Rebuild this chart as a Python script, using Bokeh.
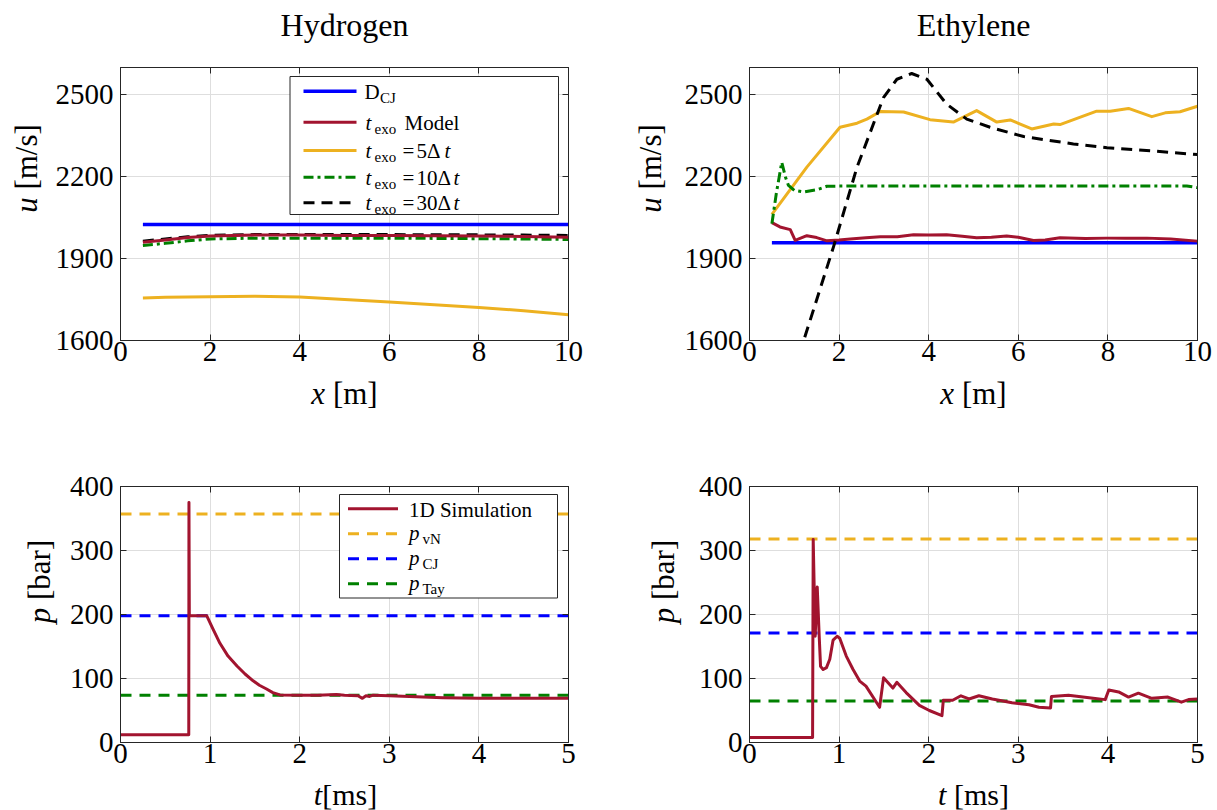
import math
from bokeh.plotting import figure
from bokeh.models import Label, BoxAnnotation, Arrow, LinearAxis, FixedTicker, Range1d
from bokeh.layouts import column, row
from bokeh.embed import file_html
from bokeh.resources import INLINE

FONT = "Liberation Serif"

# ---------------- data ----------------
# Hydrogen, velocity vs distance
h2_x_dcj = [0.5, 10.0]
h2_u_dcj = [2025, 2025]
h2_x_model = [0.5, 1.0, 1.5, 2.0, 3.0, 4.0, 5.0, 6.0, 7.0, 8.0, 9.0, 10.0]
h2_u_model = [1960, 1968, 1977, 1983, 1986, 1986, 1985, 1985, 1984, 1983, 1981, 1978]
h2_x_t5 = [0.5, 1.0, 2.0, 3.0, 4.0, 5.0, 6.0, 7.0, 8.0, 9.0, 10.0]
h2_u_t5 = [1756, 1758, 1760, 1762, 1759, 1750, 1741, 1731, 1721, 1709, 1694]
h2_x_t10 = [0.5, 1.0, 1.5, 2.0, 3.0, 4.0, 5.0, 6.0, 7.0, 8.0, 9.0, 10.0]
h2_u_t10 = [1948, 1956, 1965, 1972, 1975, 1975, 1975, 1975, 1974, 1973, 1972, 1970]
h2_x_t30 = [0.5, 1.0, 1.5, 2.0, 3.0, 4.0, 5.0, 6.0, 7.0, 8.0, 9.0, 10.0]
h2_u_t30 = [1964, 1972, 1980, 1985, 1988, 1988, 1988, 1988, 1987, 1987, 1986, 1985]

# Ethylene, velocity vs distance
c2_x_dcj = [0.5, 10.0]
c2_u_dcj = [1958, 1958]
c2_x_model = [0.5, 0.68, 0.91, 1.02, 1.1, 1.28, 1.5, 1.73, 2.0, 2.25, 2.6, 2.92, 3.3, 3.66,
              4.0, 4.4, 4.75, 5.07, 5.4, 5.74, 6.0, 6.34, 6.6, 6.93, 7.5, 7.98, 8.4, 8.87, 9.4, 10.0]
c2_u_model = [2032, 2016, 2006, 1967, 1972, 1984, 1977, 1965, 1968, 1972, 1976, 1980, 1980, 1987,
              1986, 1987, 1982, 1976, 1978, 1983, 1978, 1966, 1968, 1976, 1974, 1975, 1975, 1975, 1972, 1964]
c2_x_t5 = [0.5, 1.28, 2.02, 2.40, 2.62, 2.92, 3.44, 4.03, 4.55, 5.07, 5.52, 5.82, 6.30, 6.79,
           6.93, 7.75, 8.05, 8.46, 8.98, 9.28, 9.61, 10.0]
c2_u_t5 = [2062, 2235, 2381, 2396, 2411, 2439, 2437, 2409, 2400, 2442, 2400, 2408, 2375, 2393,
           2391, 2440, 2440, 2450, 2420, 2434, 2438, 2458]
c2_x_t10 = [0.5, 0.6, 0.72, 0.8, 0.87, 1.0, 1.21, 1.5, 1.73, 2.2, 3.0, 4.0, 5.0, 6.0, 7.0, 8.0, 9.0, 9.76, 10.0]
c2_u_t10 = [2028, 2140, 2253, 2200, 2168, 2150, 2144, 2152, 2165, 2166, 2166, 2166, 2166, 2166, 2166, 2166, 2166, 2166, 2160]
c2_x_t30 = [0.5, 1.21, 1.875, 2.4, 2.99, 3.29, 3.62, 3.96, 4.40, 4.85, 5.37, 6.12, 7.23, 7.98, 9.09, 10.0]
c2_u_t30 = [1235, 1600, 1943, 2235, 2490, 2557, 2578, 2557, 2466, 2411, 2381, 2347, 2320, 2306, 2293, 2281]

# Hydrogen, pressure vs time
h2_t_sim = [0.0, 0.762, 0.764, 0.768, 0.963, 1.03, 1.11, 1.2, 1.30, 1.39, 1.48, 1.55, 1.63, 1.70,
            1.78, 2.0, 2.2, 2.41, 2.5, 2.65, 2.70, 2.74, 2.78, 2.82, 3.0, 3.3, 3.6, 4.0, 4.5, 5.0]
h2_p_sim = [12, 12, 375, 198, 198, 178, 155, 135, 119.5, 107, 96.4, 89.5, 83.6, 78,
            74.4, 74, 74, 75, 74, 73, 69, 73, 72, 74, 73, 71.5, 70, 69, 69, 69]
h2_t_ref = [0.0, 5.0]
h2_pvn = 357
h2_pcj = 198
h2_ptay = 74

# Ethylene, pressure vs time
c2_t_sim = [0.0, 0.704, 0.711, 0.733, 0.756, 0.778, 0.793, 0.822, 0.859, 0.896, 0.933, 0.978, 1.007,
            1.08, 1.156, 1.23, 1.30, 1.452, 1.496, 1.60, 1.644, 1.748, 1.896, 2.007, 2.148, 2.163,
            2.267, 2.36, 2.45, 2.56, 2.71, 2.93, 3.12, 3.23, 3.36, 3.37, 3.56, 3.79, 3.97, 4.01,
            4.12, 4.23, 4.34, 4.49, 4.67, 4.82, 4.90, 5.0]
c2_p_sim = [8, 8, 317, 166, 243, 166, 119, 114, 117, 130, 160, 166, 163,
            135, 114, 96, 88, 55, 101, 85, 94, 78, 58, 50, 42, 66,
            66, 73, 68, 73, 68, 62, 59, 55, 54, 72, 74, 70, 67, 82,
            79, 71, 77, 69, 71, 63, 67, 68]
c2_t_ref = [0.0, 5.0]
c2_pvn = 318
c2_pcj = 171
c2_ptay = 65

u_ticks = [1600, 1900, 2200, 2500]
x_ticks = [0, 2, 4, 6, 8, 10]
p_ticks = [0, 100, 200, 300, 400]
t_ticks = [0, 1, 2, 3, 4, 5]

# ---------------- styles ----------------
BLUE = "#0000FF"
RED = "#A2142F"
YELLOW = "#EDB120"
GREEN = "#008000"
BLACK = "#000000"
AX = "#262626"
BASE_CORR = 0.29   # baseline correction of Label rendering (fraction of font size)

W = {' ': .25, '[': .333, ']': .333, '/': .278, 'm': .778, 's': .389, 'b': .5, 'a': .444,
     'r': .333, 'u': .5, 'x': .444, 't': .278, 'p': .5, 'e': .444, 'o': .5}


def tw(s, size):
    return sum(W.get(c, 0.5) for c in s) * size


def make_fig(fw, fh, bl, br, bt, bb, xr, yr, xt, yt):
    p = figure(frame_width=fw, frame_height=fh, min_border_left=bl, min_border_right=br,
               min_border_top=bt, min_border_bottom=bb,
               x_range=Range1d(*xr), y_range=Range1d(*yr),
               output_backend="svg", toolbar_location=None,
               background_fill_color="white", border_fill_color="white")
    p.outline_line_color = AX
    p.outline_line_width = 1
    p.outline_line_alpha = 1
    for ax in p.xaxis:
        ax.ticker = FixedTicker(ticks=xt)
        ax.major_label_standoff = 1
    for ax in p.yaxis:
        ax.ticker = FixedTicker(ticks=yt)
        ax.major_label_standoff = 7
    for ax in list(p.xaxis) + list(p.yaxis):
        ax.major_tick_in = 6
        ax.major_tick_out = 0
        ax.minor_tick_line_color = None
        ax.axis_line_color = AX
        ax.major_tick_line_color = AX
        ax.major_label_text_font = FONT
        ax.major_label_text_font_size = "29px"
        ax.major_label_text_color = "black"
    p.add_layout(LinearAxis(ticker=FixedTicker(ticks=xt),
                            major_label_overrides={v: "" for v in xt},
                            major_label_text_font_size="2px", major_label_standoff=0,
                            major_tick_in=6, major_tick_out=0, minor_tick_line_color=None,
                            axis_line_color=AX, major_tick_line_color=AX), "above")
    p.add_layout(LinearAxis(ticker=FixedTicker(ticks=yt),
                            major_label_overrides={v: "" for v in yt},
                            major_label_text_font_size="2px", major_label_standoff=0,
                            major_tick_in=6, major_tick_out=0, minor_tick_line_color=None,
                            axis_line_color=AX, major_tick_line_color=AX), "right")
    p.xgrid.ticker = FixedTicker(ticks=xt)
    p.ygrid.ticker = FixedTicker(ticks=yt)
    p.grid.grid_line_color = "#dedede"
    p.grid.grid_line_width = 1
    return p


def make_strip(w, h):
    s = figure(width=w, height=h, min_border_left=0, min_border_right=0, min_border_top=0,
               min_border_bottom=0, x_axis_type=None, y_axis_type=None, title=None,
               x_range=Range1d(0, w), y_range=Range1d(0, h),
               output_backend="svg", toolbar_location=None,
               background_fill_color="white", border_fill_color="white")
    s.outline_line_color = None
    s.grid.visible = False
    return s


def txt(p, fr, px, py, text, size, style="normal", align="left", angle=0.0):
    fl, fb = fr
    if angle == 0.0:
        py = py - BASE_CORR * size
    else:
        px = px - BASE_CORR * size
    p.add_layout(Label(x=px - fl, y=fb - py, x_units="screen", y_units="screen",
                       text=text, text_font=FONT, text_font_size=f"{size}px",
                       text_font_style=style, text_align=align, text_baseline="alphabetic",
                       text_color="black", angle=angle))


def _split(s):
    stripped = s.lstrip(" ")
    return len(s) - len(stripped), stripped


def rich_h(p, fr, cx, py, segs):
    total = sum(tw(s, sz) for s, sz, st in segs)
    x = cx - total / 2
    for s, sz, st in segs:
        n, body = _split(s)
        x += tw(" " * n, sz)
        txt(p, fr, x, py, body, sz, st)
        x += tw(body, sz)


def rich_v(p, fr, px, cy, segs):
    total = sum(tw(s, sz) for s, sz, st in segs)
    y = cy + total / 2
    for s, sz, st in segs:
        n, body = _split(s)
        y -= tw(" " * n, sz)
        txt(p, fr, px, y, body, sz, st, angle=math.pi / 2)
        y -= tw(body, sz)


def leg_line(p, fr, x0, x1, py, color, dash="solid", width=3):
    fl, fb = fr
    p.add_layout(Arrow(x_start=x0 - fl, y_start=fb - py, x_end=x1 - fl, y_end=fb - py,
                       start_units="screen", end_units="screen", end=None,
                       line_color=color, line_width=width, line_dash=dash))


def leg_box(p, fr, x0, y0, x1, y1):
    fl, fb = fr
    p.add_layout(BoxAnnotation(left=x0 - fl, right=x1 - fl, top=fb - y0, bottom=fb - y1,
                               left_units="screen", right_units="screen",
                               top_units="screen", bottom_units="screen",
                               fill_color="white", fill_alpha=1.0,
                               line_color=AX, line_width=1, line_alpha=1.0))


LW = 3
DASH_BLACK = "11 7"
DASH_GREEN = "10 4 3 4"
DASH_REF = "11 8"

# ---------------- top-left: Hydrogen u(x) ----------------
fr_tl = (120, 340)
p1 = make_fig(448, 273, 70, 61, 17, 34, (0, 10), (1600, 2600), x_ticks, u_ticks)
p1.line(h2_x_dcj, h2_u_dcj, line_color=BLUE, line_width=3.5)
p1.line(h2_x_t5, h2_u_t5, line_color=YELLOW, line_width=LW, line_join="round")
p1.line(h2_x_t10, h2_u_t10, line_color=GREEN, line_width=LW, line_dash=DASH_GREEN)
p1.line(h2_x_t30, h2_u_t30, line_color=BLACK, line_width=LW, line_dash=DASH_BLACK)
p1.line(h2_x_model, h2_u_model, line_color=RED, line_width=LW, line_join="round")

leg_box(p1, fr_tl, 289.5, 76, 558, 214)
lx0, lx1 = 303, 356
leg_line(p1, fr_tl, lx0, lx1, 90.7, BLUE, width=3.5)
leg_line(p1, fr_tl, lx0, lx1, 121.7, RED)
leg_line(p1, fr_tl, lx0, lx1, 150, YELLOW)
leg_line(p1, fr_tl, lx0, lx1, 176.7, GREEN, DASH_GREEN)
leg_line(p1, fr_tl, lx0, lx1, 202.3, BLACK, DASH_BLACK)
txt(p1, fr_tl, 364, 97.5, "D", 21)
txt(p1, fr_tl, 379.5, 101.5, "CJ", 15)
for ly, rest in [(128.5, None), (156.5, ("5Δ", 444)), (183.2, ("10Δ", 453)), (208.8, ("30Δ", 453))]:
    txt(p1, fr_tl, 365, ly, "t", 21, "italic")
    txt(p1, fr_tl, 374, ly + 4.5, "exo", 15)
    if rest is None:
        txt(p1, fr_tl, 404, ly, "Model", 21)
    else:
        txt(p1, fr_tl, 402, ly, "=", 21)
        txt(p1, fr_tl, 416, ly, rest[0], 21)
        txt(p1, fr_tl, rest[1], ly, "t", 21, "italic")

# ---------------- top-right: Ethylene u(x) ----------------
p2 = make_fig(448, 273, 70, 20, 17, 34, (0, 10), (1600, 2600), x_ticks, u_ticks)
p2.line(c2_x_dcj, c2_u_dcj, line_color=BLUE, line_width=3.5)
p2.line(c2_x_model, c2_u_model, line_color=RED, line_width=LW, line_join="round")
p2.line(c2_x_t5, c2_u_t5, line_color=YELLOW, line_width=LW, line_join="round")
p2.line(c2_x_t10, c2_u_t10, line_color=GREEN, line_width=LW, line_dash=DASH_GREEN, line_join="round")
p2.line(c2_x_t30, c2_u_t30, line_color=BLACK, line_width=LW, line_dash=DASH_BLACK, line_join="round")

# ---------------- bottom-left: Hydrogen p(t) ----------------
fr_bl = (120, 742)
p3 = make_fig(448, 256, 60, 61, 66, 34, (0, 5), (0, 400), t_ticks, p_ticks)
p3.line(h2_t_ref, [h2_pvn, h2_pvn], line_color=YELLOW, line_width=LW, line_dash=DASH_REF)
p3.line(h2_t_ref, [h2_pcj, h2_pcj], line_color=BLUE, line_width=LW, line_dash=DASH_REF)
p3.line(h2_t_ref, [h2_ptay, h2_ptay], line_color=GREEN, line_width=LW, line_dash=DASH_REF)
p3.line(h2_t_sim, h2_p_sim, line_color=RED, line_width=LW, line_join="round")

leg_box(p3, fr_bl, 339, 494, 557, 597.5)
bx0, bx1 = 347.5, 397.5
leg_line(p3, fr_bl, bx0, bx1, 508.3, RED)
leg_line(p3, fr_bl, bx0, bx1, 533.3, YELLOW, DASH_REF)
leg_line(p3, fr_bl, bx0, bx1, 558.3, BLUE, DASH_REF)
leg_line(p3, fr_bl, bx0, bx1, 583.3, GREEN, DASH_REF)
txt(p3, fr_bl, 408.5, 515.5, "1D Simulation", 21)
for ly, sub in [(538.5, "vN"), (563.5, "CJ"), (588.5, "Tay")]:
    txt(p3, fr_bl, 408.5, ly, "p", 21, "italic")
    txt(p3, fr_bl, 422, ly + 4.5, sub, 15)

# ---------------- bottom-right: Ethylene p(t) ----------------
p4 = make_fig(448, 256, 60, 20, 66, 34, (0, 5), (0, 400), t_ticks, p_ticks)
p4.line(c2_t_ref, [c2_pvn, c2_pvn], line_color=YELLOW, line_width=LW, line_dash=DASH_REF)
p4.line(c2_t_ref, [c2_pcj, c2_pcj], line_color=BLUE, line_width=LW, line_dash=DASH_REF)
p4.line(c2_t_ref, [c2_ptay, c2_ptay], line_color=GREEN, line_width=LW, line_dash=DASH_REF)
p4.line(c2_t_sim, c2_p_sim, line_color=RED, line_width=LW, line_join="round")

# ---------------- text strips (titles and axis labels) ----------------
s_title = make_strip(1217, 50)           # page y 0..50
fr_st = (0, 50)
txt(s_title, fr_st, 344, 34, "Hydrogen", 32, align="center")
txt(s_title, fr_st, 973, 34, "Ethylene", 32, align="center")

s_yl1 = make_strip(50, 324)              # page x 0..50, y 50..374
rich_v(s_yl1, (0, 374), 35, 202, [("u", 31, "italic"), (" [m/s]", 31, "normal")])
s_yl2 = make_strip(50, 324)              # page x 629..679
rich_v(s_yl2, (629, 374), 659, 202, [("u", 31, "italic"), (" [m/s]", 31, "normal")])

s_x1 = make_strip(1217, 46)              # page y 374..420
fr_x1 = (0, 420)
rich_h(s_x1, fr_x1, 344, 402, [("x", 31, "italic"), (" [m]", 31, "normal")])
rich_h(s_x1, fr_x1, 973, 402, [("x", 31, "italic"), (" [m]", 31, "normal")])

s_yl3 = make_strip(60, 356)              # page x 0..60, y 420..776
rich_v(s_yl3, (0, 776), 48, 615, [("p", 31, "italic"), (" [bar]", 31, "normal")])
s_yl4 = make_strip(60, 356)              # page x 629..689
rich_v(s_yl4, (629, 776), 672, 615, [("p", 31, "italic"), (" [bar]", 31, "normal")])

s_x2 = make_strip(1217, 34)              # page y 776..810
fr_x2 = (0, 810)
rich_h(s_x2, fr_x2, 345, 803, [("t", 30, "italic"), ("[ms]", 30, "normal")])
rich_h(s_x2, fr_x2, 973, 803, [("t", 30, "italic"), (" [ms]", 30, "normal")])

layout = column(
    s_title,
    row(s_yl1, p1, s_yl2, p2),
    s_x1,
    row(s_yl3, p3, s_yl4, p4),
    s_x2,
)
open("out.html", "w").write(file_html(layout, INLINE))
